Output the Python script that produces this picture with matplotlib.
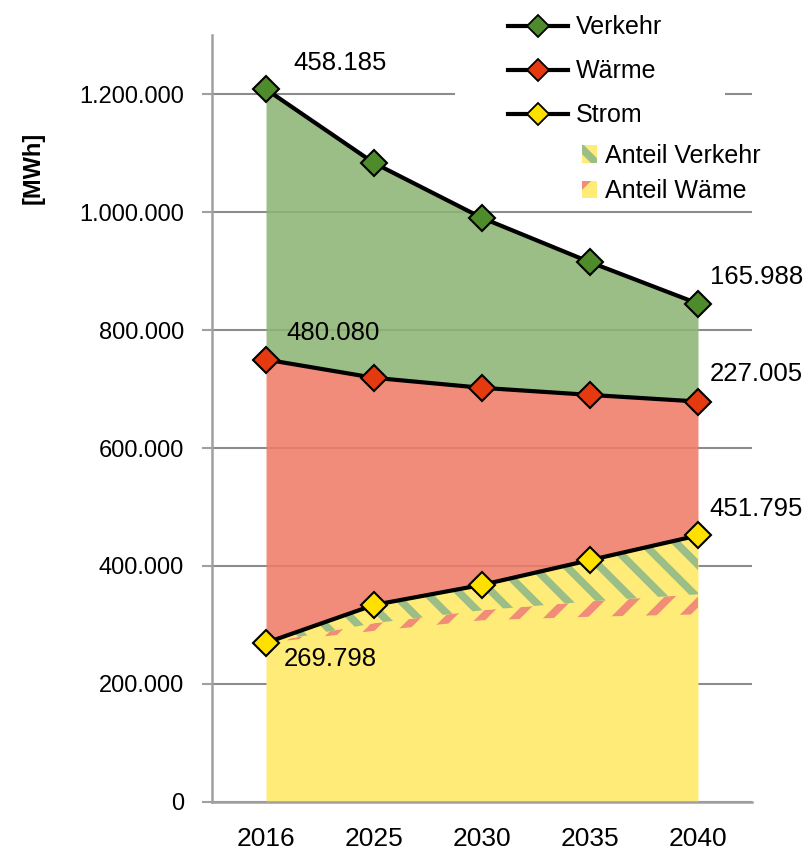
import numpy as np
import matplotlib
matplotlib.use("Agg")
from matplotlib import pyplot as plt
from matplotlib.lines import Line2D
from matplotlib.patches import Patch, Rectangle
from matplotlib.ticker import FuncFormatter

# Endenergie je Sektor [MWh]
jahre = ["2016", "2025", "2030", "2035", "2040"]
strom = [269798, 334000, 368000, 410000, 451795]
waerme = [480080, 385000, 334000, 280000, 227005]
verkehr = [458185, 364000, 288000, 225000, 165988]

# Aufteilung des Stroms: Basis, Anteil Wärme, Anteil Verkehr
strom_basis = [269798, 290000, 308000, 314000, 318000]
strom_anteil_waerme = [0, 13000, 17000, 26000, 34000]

plt.rcParams["font.family"] = ["Liberation Sans", "DejaVu Sans"]
plt.rcParams["hatch.linewidth"] = 5.5

c_gruen = "#9bbd86"
c_rot = "#f08c78"
c_gelb = "#ffeb78"
# etwas kräftiger, da halbtransparent über dem Gitter
f_gruen = "#8db475"
f_rot = "#ee7c66"
m_gruen = "#4e8b2b"
m_rot = "#e5390f"
m_gelb = "#ffe000"

x = np.arange(len(jahre))
s = np.array(strom)
w = s + np.array(waerme)
v = w + np.array(verkehr)
basis = np.array(strom_basis)
grenze = basis + np.array(strom_anteil_waerme)

fig = plt.figure(figsize=(8.04, 8.52), dpi=100)
ax = fig.add_axes([0.2637, 0.0587, 0.6716, 0.9002])

ax.fill_between(x, w, v, color=f_gruen, lw=0, zorder=2, alpha=0.88)
ax.fill_between(x, s, w, color=f_rot, lw=0, zorder=2, alpha=0.88)
ax.fill_between(x, 0, s, color=c_gelb, lw=0, zorder=2)
ax.fill_between(x, basis, grenze, facecolor=c_gelb, edgecolor=c_rot,
                hatch="/", lw=0, zorder=2.1)
ax.fill_between(x, grenze, s, facecolor=c_gelb, edgecolor=c_gruen,
                hatch="\\", lw=0, zorder=2.1)

for werte, farbe in [(v, m_gruen), (w, m_rot), (s, m_gelb)]:
    ax.plot(x, werte, color="black", lw=3, marker="D", markersize=13,
            markerfacecolor=farbe, markeredgecolor="black",
            markeredgewidth=1.5, zorder=5, clip_on=False)


def fmt(val):
    return f"{val:,.0f}".replace(",", ".")


# Werte am Anfang und Ende beschriften
beschriftung = [
    (0, v[0], verkehr[0], (53, 19)),
    (0, w[0], waerme[0], (48, 19)),
    (0, s[0], strom[0], (46, -12)),
    (4, v[4], verkehr[4], (42, 19)),
    (4, w[4], waerme[4], (42, 20)),
    (4, s[4], strom[4], (42, 19)),
]
for xi, yi, val, off in beschriftung:
    ax.annotate(fmt(val), (xi, yi), xytext=off, textcoords="offset points",
                ha="center", va="center", fontsize=18.5,
                zorder=6, annotation_clip=False)

ax.set_xlim(-0.5, 4.5)
ax.set_ylim(0, 1300000)
ax.set_xticks(x)
ax.set_xticklabels(jahre, fontsize=19)
ax.set_yticks(np.arange(0, 1200001, 200000))
ax.yaxis.set_major_formatter(FuncFormatter(lambda val, pos: fmt(val)))
ax.tick_params(axis="y", labelsize=17, length=7, width=1.5,
               color="#a0a0a0", pad=13)
ax.tick_params(axis="x", length=0, pad=18)

ax.set_axisbelow(True)
ax.grid(axis="y", color="#8c8c8c", lw=1.5)
ax.grid(axis="x", visible=False)
for side in ["top", "right"]:
    ax.spines[side].set_visible(False)
for side in ["left", "bottom"]:
    ax.spines[side].set_color("#a0a0a0")
    ax.spines[side].set_linewidth(1.8)

# weisser Hintergrund hinter der Legende
ax.add_patch(Rectangle((0.45, 1100000 / 1300000), 0.5, 0.2,
                       transform=ax.transAxes, facecolor="white",
                       edgecolor="none", zorder=0.8))

ax.set_ylabel("[MWh]", fontsize=17, fontweight="bold")
ax.yaxis.set_label_coords(-0.31, 0.827)

linien = [
    Line2D([], [], color="black", lw=3, marker="D", markersize=11,
           markerfacecolor=f, markeredgecolor="black", markeredgewidth=1.3)
    for f in (m_gruen, m_rot, m_gelb)
]
leg1 = fig.legend(linien, ["Verkehr", "Wärme", "Strom"], loc="upper left",
                  bbox_to_anchor=(0.632, 0.982), frameon=False, fontsize=18,
                  handlelength=2.4, handletextpad=0.3, labelspacing=0.8,
                  borderpad=0, borderaxespad=0)

flaechen = [
    Patch(facecolor=c_gelb, edgecolor=c_gruen, hatch="\\", lw=0),
    Patch(facecolor=c_gelb, edgecolor=c_rot, hatch="/", lw=0),
]
leg2 = fig.legend(flaechen, ["Anteil Verkehr", "Anteil Wäme"], loc="upper left",
                  bbox_to_anchor=(0.724, 0.831), frameon=False, fontsize=18,
                  handlelength=0.6, handleheight=0.7, handletextpad=0.3,
                  labelspacing=0.45, borderpad=0, borderaxespad=0)

fig.savefig("out.png", dpi=100)
